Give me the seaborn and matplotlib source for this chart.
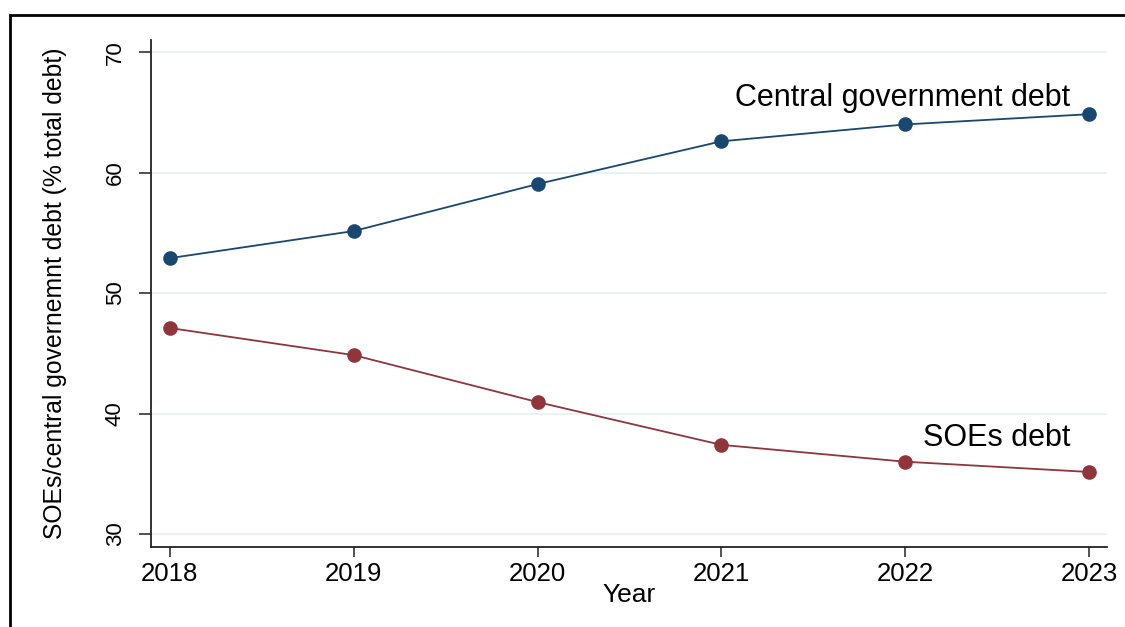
import matplotlib
matplotlib.use("Agg")
import matplotlib.pyplot as plt
import seaborn as sns
import pandas as pd
from matplotlib.patches import Rectangle

# Debt composition by year (% of total debt)
years = [2018, 2019, 2020, 2021, 2022, 2023]
central_debt = [52.9, 55.15, 59.05, 62.6, 64.0, 64.85]
soe_debt = [47.1, 44.85, 40.95, 37.4, 36.0, 35.15]
series_names = ["Central government debt", "SOEs debt"]
y_ticks = [30, 40, 50, 60, 70]

navy = "#1a476f"
maroon = "#90353b"

df = pd.DataFrame({
    "Year": years * 2,
    "value": central_debt + soe_debt,
    "series": [series_names[0]] * len(years) + [series_names[1]] * len(years),
})

sns.set_theme(style="white")
plt.rcParams["font.family"] = ["Liberation Sans", "DejaVu Sans"]

fig = plt.figure(figsize=(11.25, 6.27), dpi=100)
ax = fig.add_axes([0.1342, 0.1276, 0.984 - 0.1342, 0.936 - 0.1276])

sns.lineplot(
    data=df, x="Year", y="value", hue="series",
    palette={series_names[0]: navy, series_names[1]: maroon},
    marker="o", markersize=10.5, markeredgewidth=0, linewidth=1.3,
    legend=False, ax=ax, zorder=3,
)

ax.set_xlim(2017.897, 2023.098)
ax.set_ylim(28.92, 71.0)
ax.set_xticks(years)
ax.set_xticklabels([str(y) for y in years])
ax.set_yticks(y_ticks)
ax.set_yticklabels([str(t) for t in y_ticks])

# horizontal grid only
ax.grid(False)
for t in y_ticks:
    ax.axhline(t, color="#eaf2f3", linewidth=1.5, zorder=1)

for side in ["top", "right"]:
    ax.spines[side].set_visible(False)
for side in ["left", "bottom"]:
    ax.spines[side].set_color("#222222")
    ax.spines[side].set_linewidth(1.3)

ax.tick_params(axis="x", which="major", bottom=True, length=7, width=1.1,
               color="#222222", labelsize=18.5, pad=4, labelcolor="black")
ax.tick_params(axis="y", which="major", left=True, length=9, width=1.1,
               color="#222222", labelsize=16, pad=9, labelrotation=90,
               labelcolor="black")
for lbl in ax.get_yticklabels():
    lbl.set_va("center")

ax.set_xlabel("Year", fontsize=19, labelpad=-2, color="black")
ax.set_ylabel("SOEs/central governemnt debt (% total debt)", fontsize=17.8,
              color="black")
ax.yaxis.set_label_coords(-0.088, 0.5)

ax.text(2022.9, 66.2, series_names[0], ha="right", va="center",
        fontsize=22, color="black")
ax.text(2022.9, 37.97, series_names[1], ha="right", va="center",
        fontsize=22, color="black")

# outer frame around the graph region
fig.patches.append(Rectangle((10 / 1125, -0.5), 2.0, 0.5 + (1 - 15 / 627),
                             transform=fig.transFigure, fill=False,
                             edgecolor="black", linewidth=2.0, zorder=10))

fig.savefig("out.png", dpi=100)
